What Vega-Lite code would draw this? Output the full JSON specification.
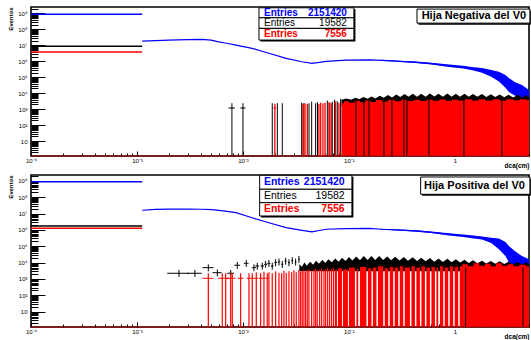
{
"$schema":"https://vega.github.io/schema/vega-lite/v6.json",
"background":"white",
"padding":{"left":6,"top":4,"right":0,"bottom":0},
"spacing":2,
"config":{"view":{"stroke":"black","strokeWidth":1.6,"fill":"white"},"font":"Liberation Sans",
 "axisX":{"values":[0.0001,0.0002,0.0003,0.0004,0.0005,0.0006,0.0007,0.0008,0.0009,0.001,0.002,0.003,0.004,0.005,0.006,0.007,0.008,0.009,0.01,0.02,0.03,0.04,0.05,0.06,0.07,0.08,0.09,0.1,0.2,0.3,0.4,0.5,0.6,0.7,0.8,0.9,1,2,3,4,5],
  "labelExpr":"datum.value==0.0001?'10⁻⁴':datum.value==0.001?'10⁻³':datum.value==0.01?'10⁻²':datum.value==0.1?'10⁻¹':datum.value==1?'1':''",
  "tickSize":{"condition":{"test":"indexof([0.0001,0.001,0.01,0.1,1],datum.value)>=0","value":-5},"value":-3},
  "labelFontSize":6,"labelPadding":6,"labelFlush":false,"labelOverlap":false,"labelFont":"Liberation Sans","labelColor":"black",
  "titleAnchor":"end","titleFontSize":6.5,"titleFontWeight":"bold","titlePadding":-3,"titleFont":"Liberation Sans","titleColor":"black",
  "domain":false,"grid":false,"tickColor":"black","tickWidth":1,"zindex":1},
 "axisY":{"values":[2,3,4,5,6,7,8,9,10,20,30,40,50,60,70,80,90,100,200,300,400,500,600,700,800,900,1000,2000,3000,4000,5000,6000,7000,8000,9000,10000,20000,30000,40000,50000,60000,70000,80000,90000,100000,200000,300000,400000,500000,600000,700000,800000,900000,1000000,2000000,3000000,4000000,5000000,6000000,7000000,8000000,9000000,10000000,20000000,30000000,40000000,50000000,60000000,70000000,80000000,90000000,100000000,200000000,300000000,400000000,500000000,600000000,700000000,800000000,900000000,1000000000,2000000000],
  "labelExpr":"datum.value==10?'10':datum.value==100?'10²':datum.value==1000?'10³':datum.value==10000?'10⁴':datum.value==100000?'10⁵':datum.value==1000000?'10⁶':datum.value==10000000?'10⁷':datum.value==100000000?'10⁸':datum.value==1000000000?'10⁹':''",
  "tickSize":{"condition":{"test":"indexof([10,100,1000,10000,100000,1000000,10000000,100000000,1000000000],datum.value)>=0","value":-14},"value":-7},
  "labelFontSize":6,"labelPadding":18,"labelOverlap":false,"labelFont":"Liberation Sans","labelColor":"black",
  "titleAnchor":"end","titleFontSize":6,"titlePadding":4,"titleFont":"Liberation Sans","titleColor":"black",
  "domain":false,"grid":false,"tickColor":"black","tickWidth":1,"zindex":1}
},
"vconcat":[
{
 "width":498,"height":149,
 "encoding":{
  "x":{"field":"x","type":"quantitative","scale":{"type":"log","domain":[0.0001,5],"nice":false},"axis":{"title":"dca(cm)"}},
  "y":{"field":"y","type":"quantitative","scale":{"type":"log","domain":[1.2,2.5e9],"nice":false},"axis":{"title":"Eventos"}}
 },
 "layer":[
  {"data":{"values":[{"x":0.0001,"x2":0.00112,"y":8.7e8}]},"mark":{"type":"rule","color":"#0000ff","strokeWidth":1.5},"encoding":{"x2":{"field":"x2"}}},
  {"data":{"values":[{"x":0.0001,"x2":0.00112,"y":8.7e6}]},"mark":{"type":"rule","color":"#000000","strokeWidth":1.5},"encoding":{"x2":{"field":"x2"}}},
  {"data":{"values":[{"x":0.0001,"x2":0.00112,"y":3.8e6}]},"mark":{"type":"rule","color":"#ff0000","strokeWidth":1.5},"encoding":{"x2":{"field":"x2"}}},
  {"data":{"values":[{"x":0.2,"y":1.1e6,"y2":1.25e6},{"x":0.3,"y":9.3e5,"y2":1.1e6},{"x":0.43,"y":7.8e5,"y2":9.6e5},{"x":0.6,"y":6.4e5,"y2":8.2e5},{"x":0.88,"y":4.5e5,"y2":6.3e5},{"x":1.2,"y":3.5e5,"y2":5.3e5},{"x":1.5,"y":2.7e5,"y2":4.3e5},{"x":1.8,"y":1.9e5,"y2":3.8e5},{"x":2.2,"y":1.1e5,"y2":2.9e5},{"x":2.6,"y":5.5e4,"y2":2.2e5},{"x":3.0,"y":2.2e4,"y2":1.4e5},{"x":3.23,"y":1.2e4,"y2":9e4},{"x":3.7,"y":7e3,"y2":5e4},{"x":4.29,"y":5.5e3,"y2":3.3e4},{"x":5.0,"y":3.8e3,"y2":1.6e4}]},
   "mark":{"type":"area","color":"#0000ff"},"encoding":{"y2":{"field":"y2"}}},
  {"data":{"values":[{"x":0.00112,"y":1.85e7},{"x":0.0015,"y":2.0e7},{"x":0.002,"y":2.1e7},{"x":0.003,"y":2.3e7},{"x":0.0041,"y":2.35e7},{"x":0.005,"y":2.1e7},{"x":0.0059,"y":1.66e7},{"x":0.007,"y":1.35e7},{"x":0.0086,"y":1.04e7},{"x":0.0122,"y":6.5e6},{"x":0.0176,"y":3.2e6},{"x":0.0255,"y":1.54e6},{"x":0.0361,"y":9.4e5},{"x":0.0448,"y":7.5e5},{"x":0.0525,"y":8.6e5},{"x":0.0607,"y":1.0e6},{"x":0.0938,"y":1.2e6},{"x":0.155,"y":1.25e6},{"x":0.205,"y":1.15e6},{"x":0.3,"y":1.0e6},{"x":0.429,"y":8.7e5},{"x":0.6,"y":7.2e5},{"x":0.877,"y":5.3e5},{"x":1.2,"y":4.3e5},{"x":1.8,"y":2.85e5},{"x":2.2,"y":2.0e5},{"x":2.6,"y":1.3e5},{"x":3.0,"y":6e4},{"x":3.23,"y":3.3e4},{"x":3.7,"y":1.9e4},{"x":4.29,"y":1.4e4},{"x":5.0,"y":8e3}]},
   "mark":{"type":"line","color":"#0000ff","strokeWidth":1.2}},
  {"data":{"values":[{"x":0.085,"y":1500,"y2":4000},{"x":0.095,"y":1500,"y2":4800},{"x":0.105,"y":1500,"y2":4000},{"x":0.115,"y":1500,"y2":5200},{"x":0.125,"y":1500,"y2":4200},{"x":0.137,"y":1500,"y2":5800},{"x":0.15,"y":1500,"y2":4500},{"x":0.163,"y":1500,"y2":6300},{"x":0.178,"y":1500,"y2":4800},{"x":0.195,"y":1500,"y2":7000},{"x":0.213,"y":1500,"y2":5200},{"x":0.233,"y":1500,"y2":7800},{"x":0.255,"y":1500,"y2":5500},{"x":0.28,"y":1500,"y2":8500},{"x":0.305,"y":1500,"y2":5800},{"x":0.335,"y":1500,"y2":9000},{"x":0.365,"y":1500,"y2":6000},{"x":0.4,"y":1500,"y2":9500},{"x":0.44,"y":1500,"y2":6200},{"x":0.48,"y":1500,"y2":9500},{"x":0.53,"y":1500,"y2":6200},{"x":0.58,"y":1500,"y2":9800},{"x":0.64,"y":1500,"y2":6300},{"x":0.7,"y":1500,"y2":9500},{"x":0.77,"y":1500,"y2":6200},{"x":0.85,"y":1500,"y2":9800},{"x":0.93,"y":1500,"y2":6200},{"x":1.02,"y":1500,"y2":9500},{"x":1.12,"y":1500,"y2":6000},{"x":1.23,"y":1500,"y2":9500},{"x":1.35,"y":1500,"y2":6000},{"x":1.48,"y":1500,"y2":9200},{"x":1.63,"y":1500,"y2":6000},{"x":1.8,"y":1500,"y2":9000},{"x":1.98,"y":1500,"y2":5800},{"x":2.18,"y":1500,"y2":8800},{"x":2.4,"y":1500,"y2":5800},{"x":2.65,"y":1500,"y2":8500},{"x":2.92,"y":1500,"y2":5600},{"x":3.2,"y":1500,"y2":8200},{"x":3.55,"y":1500,"y2":5500},{"x":3.9,"y":1500,"y2":8000},{"x":4.3,"y":1500,"y2":5400},{"x":4.7,"y":1500,"y2":7500},{"x":5,"y":1500,"y2":5500}]},
   "mark":{"type":"area","color":"#000000"},"encoding":{"y2":{"field":"y2"}}},
  {"data":{"values":[{"x":0.00787,"y":2400},{"x":0.01,"y":2400},{"x":0.0189,"y":2400},{"x":0.0211,"y":2400},{"x":0.0235,"y":2400},{"x":0.0358,"y":2600},{"x":0.0375,"y":2400},{"x":0.042,"y":2400},{"x":0.0445,"y":3000},{"x":0.0485,"y":2400},{"x":0.0505,"y":2800},{"x":0.0625,"y":3500},{"x":0.066,"y":2600},{"x":0.0696,"y":3000},{"x":0.0733,"y":4000},{"x":0.0776,"y":3200},{"x":0.0835,"y":4500}]},
   "mark":{"type":"rule","color":"#000000","strokeWidth":1},"encoding":{"y2":{"datum":1.2}}},
  {"data":{"values":[{"x":0.0073,"x2":0.0084,"y":1200},{"x":0.00945,"x2":0.01055,"y":1200}]},
   "mark":{"type":"rule","color":"#000000","strokeWidth":1},"encoding":{"x2":{"field":"x2"}}},
  {"data":{"values":[{"x":0.085,"y":2400},{"x":0.095,"y":3200},{"x":0.105,"y":2600},{"x":0.12,"y":3400},{"x":0.135,"y":2800},{"x":0.15,"y":3600},{"x":0.17,"y":2900},{"x":0.19,"y":3800},{"x":0.22,"y":3100},{"x":0.25,"y":3900},{"x":0.29,"y":3200},{"x":0.33,"y":4000},{"x":0.38,"y":3300},{"x":0.44,"y":4000},{"x":0.5,"y":3300},{"x":0.58,"y":4000},{"x":0.66,"y":3400},{"x":0.76,"y":4100},{"x":0.88,"y":3400},{"x":1.0,"y":4000},{"x":1.15,"y":3500},{"x":1.35,"y":4200},{"x":1.55,"y":3500},{"x":1.8,"y":4200},{"x":2.1,"y":3600},{"x":2.45,"y":4300},{"x":2.85,"y":3600},{"x":3.3,"y":4300},{"x":3.8,"y":3700},{"x":4.4,"y":4200},{"x":5,"y":3800}]},
   "mark":{"type":"area","color":"#ff0000","interpolate":"step"},"encoding":{"y2":{"datum":1.2}}},
  {"data":{"values":[{"x":0.02,"y":2200},{"x":0.0368,"y":2200},{"x":0.0385,"y":2400},{"x":0.0405,"y":2200},{"x":0.0521,"y":2200},{"x":0.0541,"y":2600},{"x":0.0569,"y":2400},{"x":0.0595,"y":2600},{"x":0.0647,"y":2800},{"x":0.0681,"y":2400},{"x":0.0748,"y":3000},{"x":0.0805,"y":2600}]},
   "mark":{"type":"rule","color":"#ff0000","strokeWidth":1.3},"encoding":{"y2":{"datum":1.2}}},
  {"data":{"values":[{"x":0.0194,"x2":0.0206,"y":1200}]},
   "mark":{"type":"rule","color":"#ff0000","strokeWidth":1},"encoding":{"x2":{"field":"x2"}}},
  {"data":{"values":[{"x":0.1164,"y":3800},{"x":0.1385,"y":3500},{"x":0.1544,"y":4000},{"x":0.2139,"y":3600},{"x":0.2544,"y":4000},{"x":0.3304,"y":3800},{"x":0.3525,"y":4200},{"x":0.5685,"y":4000},{"x":1.216,"y":4000},{"x":2.776,"y":4200}]},
   "mark":{"type":"rule","color":"#000000","strokeWidth":1},"encoding":{"y2":{"datum":1.2}}},
  {"data":{"values":[{"x":0.0001,"x2":5,"y":1.2}]},"mark":{"type":"rule","color":"#b00000","strokeWidth":1},"encoding":{"x2":{"field":"x2"}}},
  {"data":{"values":[{"x":0.01463,"x2":0.1151,"y":1.72e7,"y2":1.8e9},{"x":0.453,"x2":5.2,"y":1.97e8,"y2":1.49e9}]},
   "mark":{"type":"rect","color":"#000000"},"encoding":{"x2":{"field":"x2"},"y2":{"field":"y2"}}},
  {"data":{"values":[{"x":0.01416,"x2":0.1114,"y":5.3e8,"y2":2.23e9},{"x":0.01416,"x2":0.1114,"y":1.15e8,"y2":5.3e8},{"x":0.01416,"x2":0.1114,"y":2.14e7,"y2":1.15e8},{"x":0.4385,"x2":5.1,"y":2.45e8,"y2":1.85e9}]},
   "mark":{"type":"rect","fill":"#ffffff","stroke":"#000000","strokeWidth":1},"encoding":{"x2":{"field":"x2"},"y2":{"field":"y2"}}},
  {"data":{"values":[{"x":0.01578,"y":1.09e9,"t":"Entries","s":"h1"},{"x":0.01578,"y":5.07e7,"t":"Entries","s":"h3"}]},
   "mark":{"type":"text","align":"left","baseline":"middle","fontSize":10,"fontWeight":"bold","font":"Liberation Sans"},
   "encoding":{"text":{"field":"t"},"color":{"field":"s","type":"nominal","scale":{"domain":["h1","h2","h3"],"range":["#0000ff","#000000","#ff0000"]},"legend":null}}},
  {"data":{"values":[{"x":0.0957,"y":1.09e9,"t":"2151420","s":"h1"},{"x":0.0957,"y":5.07e7,"t":"7556","s":"h3"}]},
   "mark":{"type":"text","align":"right","baseline":"middle","fontSize":10,"fontWeight":"bold","font":"Liberation Sans"},
   "encoding":{"text":{"field":"t"},"color":{"field":"s","type":"nominal","scale":{"domain":["h1","h2","h3"],"range":["#0000ff","#000000","#ff0000"]},"legend":null}}},
  {"data":{"values":[{"x":0.01578,"y":2.45e8,"t":"Entries"}]},
   "mark":{"type":"text","align":"left","baseline":"middle","fontSize":10,"color":"#000000","font":"Liberation Sans"},"encoding":{"text":{"field":"t"}}},
  {"data":{"values":[{"x":0.0957,"y":2.45e8,"t":"19582"}]},
   "mark":{"type":"text","align":"right","baseline":"middle","fontSize":10,"color":"#000000","font":"Liberation Sans"},"encoding":{"text":{"field":"t"}}},
  {"data":{"values":[{"x":1.51,"y":6.8e8,"t":"Hija Negativa del V0"}]},
   "mark":{"type":"text","align":"center","baseline":"middle","fontSize":11,"fontWeight":"bold","color":"#000000","font":"Liberation Sans"},"encoding":{"text":{"field":"t"}}}
 ]
},
{
 "width":498,"height":152,
 "encoding":{
  "x":{"field":"x","type":"quantitative","scale":{"type":"log","domain":[0.0001,5],"nice":false},"axis":{"title":"dca(cm)"}},
  "y":{"field":"y","type":"quantitative","scale":{"type":"log","domain":[1.15,2.3e9],"nice":false},"axis":{"title":"Eventos"}}
 },
 "layer":[
  {"data":{"values":[{"x":0.0001,"x2":0.00112,"y":9e8}]},"mark":{"type":"rule","color":"#0000ff","strokeWidth":1.5},"encoding":{"x2":{"field":"x2"}}},
  {"data":{"values":[{"x":0.0001,"x2":0.00112,"y":1.74e6}]},"mark":{"type":"rule","color":"#000000","strokeWidth":1.5},"encoding":{"x2":{"field":"x2"}}},
  {"data":{"values":[{"x":0.0001,"x2":0.00112,"y":1.26e6}]},"mark":{"type":"rule","color":"#ff0000","strokeWidth":1.5},"encoding":{"x2":{"field":"x2"}}},
  {"data":{"values":[{"x":0.2,"y":1.05e6,"y2":1.2e6},{"x":0.3,"y":9.2e5,"y2":1.07e6},{"x":0.43,"y":7.8e5,"y2":9.6e5},{"x":0.6,"y":6.4e5,"y2":8.1e5},{"x":0.88,"y":4.6e5,"y2":6.3e5},{"x":1.2,"y":3.7e5,"y2":5.3e5},{"x":1.5,"y":3e5,"y2":4.6e5},{"x":1.8,"y":2.6e5,"y2":4e5},{"x":2.2,"y":1.6e5,"y2":3.3e5},{"x":2.6,"y":6.6e4,"y2":3.0e5},{"x":3.0,"y":2.5e4,"y2":1.8e5},{"x":3.23,"y":1e4,"y2":1.05e5},{"x":3.7,"y":7e3,"y2":5e4},{"x":4.29,"y":6.3e3,"y2":2.5e4},{"x":5,"y":4e3,"y2":1.6e4}]},
   "mark":{"type":"area","color":"#0000ff"},"encoding":{"y2":{"field":"y2"}}},
  {"data":{"values":[{"x":0.00112,"y":1.6e7},{"x":0.0015,"y":1.8e7},{"x":0.002,"y":1.9e7},{"x":0.003,"y":1.9e7},{"x":0.0041,"y":1.85e7},{"x":0.0051,"y":1.75e7},{"x":0.0065,"y":1.45e7},{"x":0.0086,"y":1.15e7},{"x":0.0122,"y":5.6e6},{"x":0.0176,"y":2.75e6},{"x":0.0255,"y":1.38e6},{"x":0.0361,"y":9.5e5},{"x":0.0448,"y":7.6e5},{"x":0.0525,"y":9.2e5},{"x":0.0607,"y":1.1e6},{"x":0.0938,"y":1.2e6},{"x":0.155,"y":1.26e6},{"x":0.205,"y":1.1e6},{"x":0.3,"y":9.8e5},{"x":0.43,"y":8.7e5},{"x":0.6,"y":7e5},{"x":0.877,"y":5.4e5},{"x":1.2,"y":4.4e5},{"x":1.8,"y":3.4e5},{"x":2.2,"y":2.4e5},{"x":2.6,"y":1.5e5},{"x":3.0,"y":6e4},{"x":3.23,"y":3.2e4},{"x":3.7,"y":1.9e4},{"x":4.29,"y":1.26e4},{"x":5,"y":8e3}]},
   "mark":{"type":"line","color":"#0000ff","strokeWidth":1.2}},
  {"data":{"values":[{"x":0.034,"y":3000,"y2":8000},{"x":0.036,"y":3000,"y2":5500},{"x":0.038,"y":3000,"y2":10000},{"x":0.04,"y":3000,"y2":6500},{"x":0.043,"y":3000,"y2":11500},{"x":0.046,"y":3000,"y2":7500},{"x":0.049,"y":3000,"y2":13000},{"x":0.052,"y":3000,"y2":8500},{"x":0.056,"y":3000,"y2":14500},{"x":0.06,"y":3000,"y2":9500},{"x":0.064,"y":3000,"y2":16000},{"x":0.069,"y":3000,"y2":10500},{"x":0.074,"y":3000,"y2":18000},{"x":0.08,"y":3000,"y2":11500},{"x":0.086,"y":3000,"y2":20000},{"x":0.093,"y":3000,"y2":12500},{"x":0.1,"y":3000,"y2":22000},{"x":0.108,"y":3000,"y2":13500},{"x":0.117,"y":3000,"y2":24000},{"x":0.127,"y":3000,"y2":14000},{"x":0.138,"y":3000,"y2":25000},{"x":0.15,"y":3000,"y2":14500},{"x":0.163,"y":3000,"y2":25000},{"x":0.177,"y":3000,"y2":14500},{"x":0.193,"y":3000,"y2":25000},{"x":0.21,"y":3000,"y2":14500},{"x":0.23,"y":3000,"y2":24000},{"x":0.25,"y":3000,"y2":14000},{"x":0.273,"y":3000,"y2":23000},{"x":0.3,"y":3000,"y2":13500},{"x":0.33,"y":3000,"y2":22000},{"x":0.36,"y":3000,"y2":13000},{"x":0.4,"y":3000,"y2":21000},{"x":0.44,"y":3000,"y2":12500},{"x":0.48,"y":3000,"y2":20000},{"x":0.53,"y":3000,"y2":12000},{"x":0.58,"y":3000,"y2":19000},{"x":0.64,"y":3000,"y2":11500},{"x":0.7,"y":3000,"y2":18000},{"x":0.77,"y":3000,"y2":11000},{"x":0.85,"y":3000,"y2":17000},{"x":0.93,"y":3000,"y2":10500},{"x":1.02,"y":3000,"y2":16000},{"x":1.12,"y":3000,"y2":10000},{"x":1.23,"y":3000,"y2":15000},{"x":1.35,"y":3000,"y2":9500},{"x":1.48,"y":3000,"y2":14000},{"x":1.63,"y":3000,"y2":9000},{"x":1.8,"y":3000,"y2":13000},{"x":1.98,"y":3000,"y2":8800},{"x":2.18,"y":3000,"y2":12500},{"x":2.4,"y":3000,"y2":8500},{"x":2.65,"y":3000,"y2":12000},{"x":2.92,"y":3000,"y2":8200},{"x":3.2,"y":3000,"y2":11500},{"x":3.55,"y":3000,"y2":8000},{"x":3.9,"y":3000,"y2":11000},{"x":4.3,"y":3000,"y2":7800},{"x":4.7,"y":3000,"y2":10500},{"x":5,"y":3000,"y2":8000}]},
   "mark":{"type":"area","color":"#000000"},"encoding":{"y2":{"field":"y2"}}},
  {"data":{"values":[{"x":0.00249,"xl":0.00193,"xh":0.00305,"y":2230,"yl":1340,"yh":3570},{"x":0.00352,"xl":0.00296,"xh":0.00408,"y":2230,"yl":1340,"yh":3570},{"x":0.00471,"xl":0.00415,"xh":0.00527,"y":4900,"yl":2940,"yh":7840},{"x":0.00573,"xl":0.00517,"xh":0.00629,"y":2420,"yl":1450,"yh":3870},{"x":0.00766,"xl":0.0071,"xh":0.00822,"y":2230,"yl":1340,"yh":3570},{"x":0.00884,"xl":0.00828,"xh":0.0094,"y":6900,"yl":4140,"yh":11000},{"x":0.01074,"xl":0.01018,"xh":0.0113,"y":9100,"yl":5460,"yh":14500},{"x":0.0127,"xl":0.01214,"xh":0.01326,"y":4900,"yl":2940,"yh":7840},{"x":0.01365,"xl":0.01309,"xh":0.01421,"y":6200,"yl":3720,"yh":9900},{"x":0.01521,"xl":0.01465,"xh":0.01577,"y":6200,"yl":3720,"yh":9900},{"x":0.01637,"xl":0.01581,"xh":0.01693,"y":7900,"yl":4740,"yh":12600},{"x":0.01758,"xl":0.01702,"xh":0.01814,"y":9100,"yl":5460,"yh":14500},{"x":0.01889,"xl":0.01833,"xh":0.01945,"y":6200,"yl":3720,"yh":9900},{"x":0.02034,"xl":0.01978,"xh":0.0209,"y":10000,"yl":6000,"yh":16000},{"x":0.02186,"xl":0.0213,"xh":0.02242,"y":11000,"yl":6600,"yh":17600},{"x":0.02349,"xl":0.02293,"xh":0.02405,"y":7900,"yl":4740,"yh":12600},{"x":0.02528,"xl":0.02472,"xh":0.02584,"y":12600,"yl":7560,"yh":20000},{"x":0.02716,"xl":0.0266,"xh":0.02772,"y":10000,"yl":6000,"yh":16000},{"x":0.02918,"xl":0.02862,"xh":0.02974,"y":13500,"yl":8100,"yh":21600},{"x":0.03139,"xl":0.03083,"xh":0.03195,"y":11000,"yl":6600,"yh":17600},{"x":0.03373,"xl":0.03317,"xh":0.03429,"y":16000,"yl":9600,"yh":25600}]},
   "layer":[
    {"mark":{"type":"rule","color":"#000000","strokeWidth":1},"encoding":{"x":{"field":"xl"},"x2":{"field":"xh"}}},
    {"mark":{"type":"rule","color":"#000000","strokeWidth":1},"encoding":{"y":{"field":"yl"},"y2":{"field":"yh"}}}
   ]},
  {"data":{"values":[{"x":0.0738,"x2":0.077,"y":3500},{"x":0.0787,"x2":0.0859,"y":4500},{"x":0.0878,"x2":0.0979,"y":3800},{"x":0.1,"x2":0.1139,"y":5000},{"x":0.1177,"x2":0.1224,"y":4000},{"x":0.127,"x2":0.1463,"y":5500},{"x":0.1511,"x2":0.1631,"y":4500},{"x":0.1684,"x2":0.1817,"y":5000},{"x":0.1877,"x2":0.2107,"y":6000},{"x":0.2176,"x2":0.2348,"y":4500},{"x":0.2426,"x2":0.2617,"y":5500},{"x":0.2704,"x2":0.2919,"y":5000},{"x":0.3015,"x2":0.3253,"y":6000},{"x":0.336,"x2":0.3762,"y":5000},{"x":0.3887,"x2":0.4195,"y":6000},{"x":0.4333,"x2":0.4675,"y":5000},{"x":0.483,"x2":0.5212,"y":6000},{"x":0.5384,"x2":0.581,"y":5000},{"x":0.6003,"x2":0.6476,"y":5500},{"x":0.6689,"x2":0.6958,"y":5000},{"x":0.7224,"x2":0.7757,"y":6000},{"x":0.8012,"x2":0.8645,"y":5000},{"x":0.893,"x2":0.9638,"y":6000},{"x":0.9957,"x2":1.074,"y":5500}]},
   "mark":{"type":"rect","color":"#ff0000"},"encoding":{"x2":{"field":"x2"},"y2":{"datum":1.15}}},
  {"data":{"values":[{"x":1.11,"y":6000},{"x":1.25,"y":8000},{"x":1.4,"y":6000},{"x":1.6,"y":9000},{"x":1.8,"y":6500},{"x":2.05,"y":8500},{"x":2.3,"y":6000},{"x":2.6,"y":9000},{"x":2.95,"y":6500},{"x":3.35,"y":8000},{"x":3.8,"y":6000},{"x":4.3,"y":7500},{"x":5,"y":6000}]},
   "mark":{"type":"area","color":"#ff0000","interpolate":"step"},"encoding":{"y2":{"datum":1.15}}},
  {"data":{"values":[{"x":0.00471,"y":2200},{"x":0.00638,"y":2200},{"x":0.00687,"y":2200},{"x":0.00766,"y":2200},{"x":0.00793,"y":2200},{"x":0.00951,"y":2200},{"x":0.01139,"y":2200},{"x":0.01224,"y":2200},{"x":0.01335,"y":2600},{"x":0.01469,"y":2200},{"x":0.01578,"y":2800},{"x":0.01695,"y":2200},{"x":0.01758,"y":2600},{"x":0.01889,"y":2200},{"x":0.02034,"y":3000},{"x":0.02186,"y":2400},{"x":0.02318,"y":2200},{"x":0.02436,"y":3200},{"x":0.02562,"y":2400},{"x":0.02716,"y":3000},{"x":0.0288,"y":2600},{"x":0.03028,"y":3400},{"x":0.03183,"y":2600},{"x":0.03373,"y":3600},{"x":0.03503,"y":2800},{"x":0.03626,"y":3200},{"x":0.03762,"y":3800},{"x":0.03904,"y":2800},{"x":0.04043,"y":3400},{"x":0.04195,"y":4000},{"x":0.04447,"y":3000},{"x":0.04675,"y":3600},{"x":0.04849,"y":4200},{"x":0.05023,"y":3200},{"x":0.05291,"y":3800},{"x":0.05527,"y":4400},{"x":0.0581,"y":3400},{"x":0.06029,"y":4000},{"x":0.06297,"y":4600},{"x":0.06576,"y":3600},{"x":0.06867,"y":4200},{"x":0.07172,"y":4800}]},
   "mark":{"type":"rule","color":"#ff0000","strokeWidth":1.2},"encoding":{"y2":{"datum":1.15}}},
  {"data":{"values":[{"x":0.00415,"x2":0.00527,"y":1100},{"x":0.00582,"x2":0.00743,"y":1100},{"x":0.0071,"x2":0.00849,"y":1100},{"x":0.00895,"x2":0.01007,"y":1100},{"x":0.01083,"x2":0.0128,"y":1100},{"x":0.01279,"x2":0.01391,"y":1100},{"x":0.01413,"x2":0.01525,"y":1100},{"x":0.01522,"x2":0.01634,"y":1100},{"x":0.01639,"x2":0.01751,"y":1100}]},
   "mark":{"type":"rule","color":"#ff0000","strokeWidth":1},"encoding":{"x2":{"field":"x2"}}},
  {"data":{"values":[{"x":1.262,"y":5000},{"x":4.39,"y":5000}]},
   "mark":{"type":"rule","color":"#000000","strokeWidth":1},"encoding":{"y2":{"datum":1.15}}},
  {"data":{"values":[{"x":0.0001,"x2":5,"y":1.15}]},"mark":{"type":"rule","color":"#b00000","strokeWidth":1},"encoding":{"x2":{"field":"x2"}}},
  {"data":{"values":[{"x":0.01484,"x2":0.1102,"y":5.8e6,"y2":1.78e9},{"x":0.4904,"x2":5.2,"y":1.23e8,"y2":1.41e9}]},
   "mark":{"type":"rect","color":"#000000"},"encoding":{"x2":{"field":"x2"},"y2":{"field":"y2"}}},
  {"data":{"values":[{"x":0.01437,"x2":0.1067,"y":3.08e8,"y2":2.2e9},{"x":0.01437,"x2":0.1067,"y":4.66e7,"y2":3.08e8},{"x":0.01437,"x2":0.1067,"y":7.15e6,"y2":4.66e7},{"x":0.4747,"x2":5.1,"y":1.52e8,"y2":1.74e9}]},
   "mark":{"type":"rect","fill":"#ffffff","stroke":"#000000","strokeWidth":1},"encoding":{"x2":{"field":"x2"},"y2":{"field":"y2"}}},
  {"data":{"values":[{"x":0.01578,"y":8.3e8,"t":"Entries","s":"h1"},{"x":0.01578,"y":1.84e7,"t":"Entries","s":"h3"}]},
   "mark":{"type":"text","align":"left","baseline":"middle","fontSize":10.5,"fontWeight":"bold","font":"Liberation Sans"},
   "encoding":{"text":{"field":"t"},"color":{"field":"s","type":"nominal","scale":{"domain":["h1","h2","h3"],"range":["#0000ff","#000000","#ff0000"]},"legend":null}}},
  {"data":{"values":[{"x":0.0912,"y":8.3e8,"t":"2151420","s":"h1"},{"x":0.0912,"y":1.84e7,"t":"7556","s":"h3"}]},
   "mark":{"type":"text","align":"right","baseline":"middle","fontSize":10.5,"fontWeight":"bold","font":"Liberation Sans"},
   "encoding":{"text":{"field":"t"},"color":{"field":"s","type":"nominal","scale":{"domain":["h1","h2","h3"],"range":["#0000ff","#000000","#ff0000"]},"legend":null}}},
  {"data":{"values":[{"x":0.01578,"y":1.2e8,"t":"Entries"}]},
   "mark":{"type":"text","align":"left","baseline":"middle","fontSize":10.5,"color":"#000000","font":"Liberation Sans"},"encoding":{"text":{"field":"t"}}},
  {"data":{"values":[{"x":0.0912,"y":1.2e8,"t":"19582"}]},
   "mark":{"type":"text","align":"right","baseline":"middle","fontSize":10.5,"color":"#000000","font":"Liberation Sans"},"encoding":{"text":{"field":"t"}}},
  {"data":{"values":[{"x":1.53,"y":5.1e8,"t":"Hija Positiva del V0"}]},
   "mark":{"type":"text","align":"center","baseline":"middle","fontSize":11,"fontWeight":"bold","color":"#000000","font":"Liberation Sans"},"encoding":{"text":{"field":"t"}}}
 ]
}
]
}
